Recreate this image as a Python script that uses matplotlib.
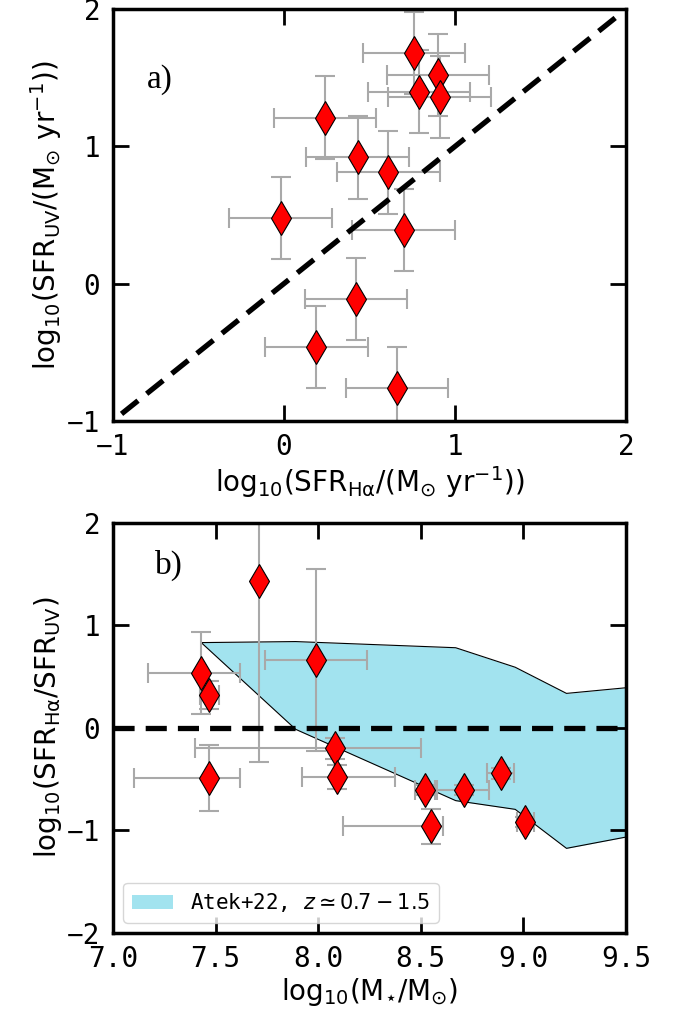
import numpy as np
import matplotlib
matplotlib.use('Agg')
import matplotlib.pyplot as plt

plt.rcParams['font.family'] = 'monospace'
plt.rcParams['font.monospace'] = ['DejaVu Sans Mono']
plt.rcParams['mathtext.fontset'] = 'dejavusans'

# panel a: SFR(UV) vs SFR(Halpha)
sfr_ha = [0.76, 0.90, 0.79, 0.91, 0.24, 0.43, 0.61, -0.02, 0.70, 0.42, 0.19, 0.66]
sfr_uv = [1.68, 1.52, 1.40, 1.36, 1.21, 0.92, 0.81, 0.48, 0.39, -0.11, -0.46, -0.76]
sfr_ha_err = [0.3] * 12
sfr_uv_err = [0.3] * 12
one_to_one = [-0.95, 1.95]

# panel b: SFR ratio vs stellar mass
mass = [7.71, 7.99, 7.43, 7.47, 7.47, 8.08, 8.09, 8.52, 8.71, 8.89, 8.55, 9.01]
ratio = [1.43, 0.66, 0.53, 0.32, -0.49, -0.20, -0.48, -0.61, -0.61, -0.445, -0.96, -0.92]
mass_err_lo = [0.0, 0.25, 0.26, 0.045, 0.37, 0.68, 0.17, 0.05, 0.13, 0.065, 0.43, 0.04]
mass_err_hi = [0.0, 0.25, 0.19, 0.045, 0.15, 0.42, 0.285, 0.05, 0.12, 0.065, 0.06, 0.04]
ratio_err = [1.76, 0.89, 0.40, 0.14, 0.32, 0.10, 0.12, 0.05, 0.05, 0.05, 0.17, 0.05]

# Atek+22 region
atek_mass = [7.43, 7.89, 8.67, 8.96, 9.21, 9.50]
atek_hi = [0.83, 0.84, 0.78, 0.59, 0.335, 0.39]
atek_lo = [0.83, -0.015, -0.71, -0.795, -1.175, -1.065]

fig = plt.figure(figsize=(6.75, 10.18), dpi=100)
ax1 = fig.add_axes([0.1674, 0.5867, 0.76, 0.4042])
ax2 = fig.add_axes([0.1674, 0.0835, 0.76, 0.4032])

ekw = dict(fmt='none', ecolor='darkgray', elinewidth=1.5, capsize=7, capthick=1.5, zorder=2)
mkw = dict(ls='none', marker='d', ms=17, mfc='red', mec='black', mew=0.8, zorder=4)

# a)
ax1.errorbar(sfr_ha, sfr_uv, xerr=sfr_ha_err, yerr=sfr_uv_err, **ekw)
ax1.plot(one_to_one, one_to_one, color='black', lw=3.8, dashes=(4.0, 2.1), zorder=3)
ax1.plot(sfr_ha, sfr_uv, **mkw)
ax1.set_xlim(-1, 2)
ax1.set_ylim(-1, 2)
ax1.set_xticks([-1, 0, 1, 2])
ax1.set_yticks([-1, 0, 1, 2])
ax1.set_xlabel(r'$\mathrm{log_{10}(SFR_{H\alpha}/(M_{\odot}\ yr^{-1}))}$', fontsize=20, labelpad=2)
ax1.set_ylabel(r'$\mathrm{log_{10}(SFR_{UV}/(M_{\odot}\ yr^{-1}))}$', fontsize=20, labelpad=2)
ax1.text(0.066, 0.83, 'a)', transform=ax1.transAxes, fontsize=24,
         family='Liberation Serif', va='center')

# b)
ax2.fill_between(atek_mass, atek_lo, atek_hi, color='#a2e3ef', lw=0, zorder=1,
                 label=r'Atek+22, $z \simeq 0.7-1.5$')
ax2.plot(atek_mass, atek_hi, color='black', lw=0.8, zorder=1.5)
ax2.plot(atek_mass, atek_lo, color='black', lw=0.8, zorder=1.5)
ax2.errorbar(mass, ratio, xerr=[mass_err_lo, mass_err_hi], yerr=ratio_err, **ekw)
ax2.axhline(0, color='black', lw=3.8, dashes=(4.0, 2.1), zorder=3)
ax2.plot(mass, ratio, **mkw)
ax2.set_xlim(7.0, 9.5)
ax2.set_ylim(-2, 2)
ax2.set_xticks([7.0, 7.5, 8.0, 8.5, 9.0, 9.5])
ax2.set_yticks([-2, -1, 0, 1, 2])
ax2.set_xlabel(r'$\mathrm{log_{10}(M_{\star}/M_{\odot})}$', fontsize=20, labelpad=2)
ax2.set_ylabel(r'$\mathrm{log_{10}(SFR_{H\alpha}/SFR_{UV})}$', fontsize=20, labelpad=2)
ax2.text(0.082, 0.895, 'b)', transform=ax2.transAxes, fontsize=24,
         family='Liberation Serif', va='center')
ax2.legend(loc='lower left', fontsize=15, handlelength=2.0)

for ax in (ax1, ax2):
    for s in ax.spines.values():
        s.set_linewidth(2.5)
    ax.tick_params(direction='in', length=11.5, width=2, top=True, right=True,
                   labelsize=20, pad=9)

fig.savefig('out.png', dpi=100)
